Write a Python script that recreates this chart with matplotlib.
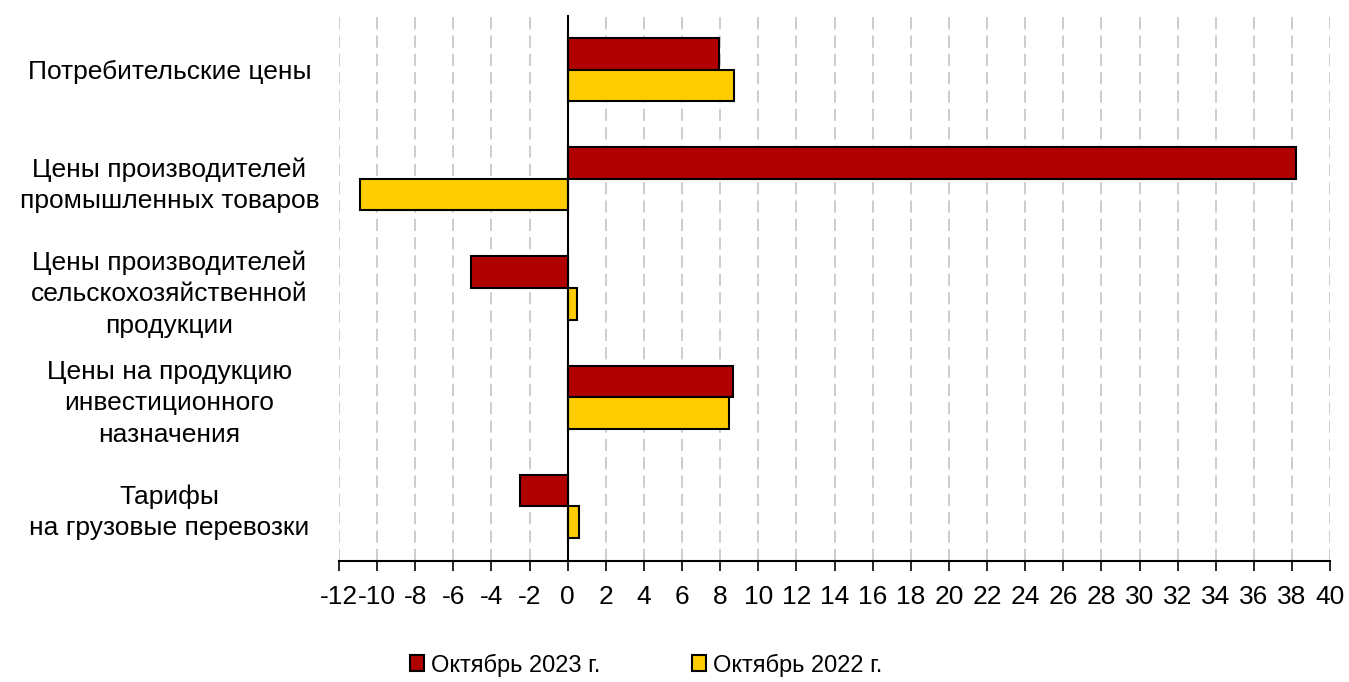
import matplotlib
matplotlib.use('Agg')
import matplotlib.pyplot as plt
from matplotlib.patches import Patch
import numpy as np

# Data
categories = ['Потребительские цены',
              'Цены производителей\nпромышленных товаров',
              'Цены производителей\nсельскохозяйственной\nпродукции',
              'Цены на продукцию\nинвестиционного\nназначения',
              'Тарифы\nна грузовые перевозки']
oct_2023 = [7.95, 38.2, -5.1, 8.65, -2.5]
oct_2022 = [8.75, -10.9, 0.5, 8.45, 0.6]
series_names = ['Октябрь 2023 г.', 'Октябрь 2022 г.']
xticks = list(range(-12, 41, 2))

plt.rcParams['font.family'] = ['Liberation Sans', 'DejaVu Sans']
plt.rcParams['font.size'] = 19

red = '#B00000'
yellow = '#FFCC00'

fig = plt.figure(figsize=(13.49, 6.82), dpi=100)
ax = fig.add_axes([0.2513, 0.1774, 0.7347, 0.8006])

y = np.arange(len(categories))
h = 0.29
ax.barh(y - h/2, oct_2023, height=h, color=red, edgecolor='black', linewidth=1.5, zorder=3)
ax.barh(y + h/2, oct_2022, height=h, color=yellow, edgecolor='black', linewidth=1.5, zorder=3)

ax.set_xlim(-12, 40)
ax.set_ylim(len(categories) - 0.5, -0.5)
ax.set_xticks(xticks)
ax.set_xticklabels([str(t) for t in xticks])
ax.tick_params(axis='x', direction='out', length=7, width=1.2, pad=10)
ax.set_yticks(y)
ax.set_yticklabels(categories)
ax.tick_params(axis='y', length=0, pad=122)
for lbl in ax.get_yticklabels():
    lbl.set_horizontalalignment('center')
    lbl.set_multialignment('center')
    lbl.set_linespacing(1.38)

ax.grid(axis='x', color='#c0c0c0', linewidth=1.1, linestyle=(0, (8, 4)), zorder=0)
ax.axvline(0, color='black', linewidth=1.5, zorder=4)
for s in ['left', 'right', 'top']:
    ax.spines[s].set_visible(False)
ax.spines['bottom'].set_linewidth(1.5)

handles = [Patch(facecolor=red, edgecolor='black', linewidth=1.5),
           Patch(facecolor=yellow, edgecolor='black', linewidth=1.5)]
fig.legend(handles, series_names, loc='center', bbox_to_anchor=(0.479, 0.025), ncol=2,
           frameon=False, handlelength=0.6, handleheight=0.65, handletextpad=0.3,
           columnspacing=3.9, fontsize=17)

plt.savefig('out.png', dpi=100)
